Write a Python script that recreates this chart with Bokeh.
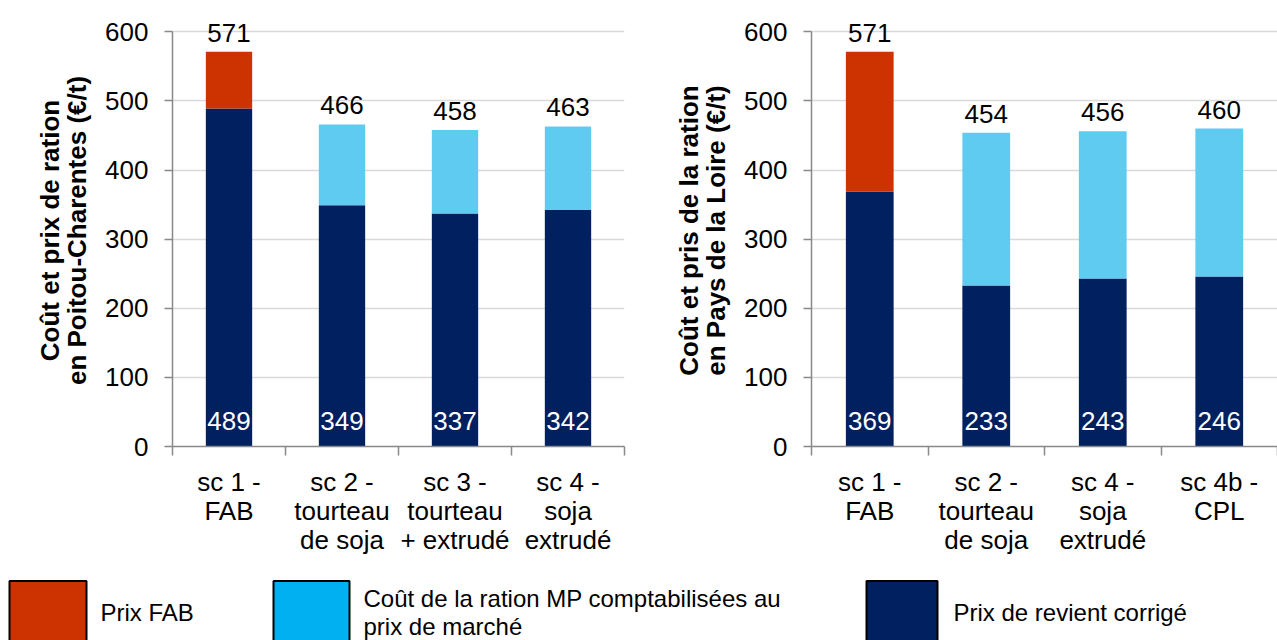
from bokeh.plotting import figure
from bokeh.models import ColumnDataSource, Range1d, FixedTicker
from bokeh.layouts import column, row
from bokeh.embed import file_html
from bokeh.resources import INLINE
from bokeh.core.properties import value

FONT = "Liberation Sans"

# ---------------- data ----------------
pc_categories = ["sc 1 -\nFAB", "sc 2 -\ntourteau\nde soja",
                 "sc 3 -\ntourteau\n+ extrudé", "sc 4 -\nsoja\nextrudé"]
pc_prix_revient = [489, 349, 337, 342]
pc_prix_fab = [571, None, None, None]
pc_cout_ration = [None, 466, 458, 463]
pc_total = [571, 466, 458, 463]
pc_ylabel = "Coût et prix de ration\nen Poitou-Charentes (€/t)"

pl_categories = ["sc 1 -\nFAB", "sc 2 -\ntourteau\nde soja",
                 "sc 4 -\nsoja\nextrudé", "sc 4b -\nCPL"]
pl_prix_revient = [369, 233, 243, 246]
pl_prix_fab = [571, None, None, None]
pl_cout_ration = [None, 454, 456, 460]
pl_total = [571, 454, 456, 460]
pl_ylabel = "Coût et pris de la ration\nen Pays de la Loire (€/t)"

y_ticks = [0, 100, 200, 300, 400, 500, 600]

series_names = ["Prix FAB",
                "Coût de la ration MP comptabilisées au\nprix de marché",
                "Prix de revient corrigé"]

# ---------------- styles ----------------
RED = "#CC3300"
LIGHT = "#5FCBF0"
LEGEND_LIGHT = "#00B0F0"
NAVY = "#002060"
AXIS = "#898989"
GRID = "#D9D9D9"
FS = "26px"


def nan(v):
    return float("nan") if v is None else v


def make_chart(categories, revient, fab, cout, total, ylabel,
               width, border_left, border_right):
    n = len(categories)
    xs = [i + 0.5 for i in range(n)]
    src = ColumnDataSource(dict(
        x=xs,
        revient=revient,
        fab=[nan(v) for v in fab],
        cout=[nan(v) for v in cout],
        total=total,
        total_label=[str(v) for v in total],
        revient_label=[str(v) for v in revient],
    ))
    p = figure(width=width, height=564,
               x_range=Range1d(0, n), y_range=Range1d(0, 625),
               output_backend="svg", toolbar_location=None,
               min_border_left=border_left, min_border_right=border_right,
               min_border_top=14, min_border_bottom=118)
    p.outline_line_color = None
    p.background_fill_color = "white"
    p.border_fill_color = "white"

    # grid
    p.xgrid.visible = False
    p.ygrid.ticker = FixedTicker(ticks=y_ticks)
    p.ygrid.grid_line_color = GRID
    p.ygrid.grid_line_width = 1.5

    # y axis
    ya = p.yaxis[0]
    ya.ticker = FixedTicker(ticks=y_ticks)
    ya.bounds = (0, 600)
    ya.axis_line_color = AXIS
    ya.axis_line_width = 1.5
    ya.major_tick_line_color = AXIS
    ya.major_tick_line_width = 1.5
    ya.major_tick_out = 8
    ya.major_tick_in = 0
    ya.minor_tick_line_color = None
    ya.major_label_text_font = FONT
    ya.major_label_text_font_size = FS
    ya.major_label_text_color = "black"
    ya.major_label_standoff = 16
    ya.axis_label = ylabel
    ya.axis_label_text_font = FONT
    ya.axis_label_text_font_size = "26px"
    ya.axis_label_text_font_style = "bold"
    ya.axis_label_text_color = "black"
    ya.axis_label_text_line_height = 0.9
    ya.axis_label_standoff = 10

    # x axis: labels at centres, ticks at boundaries
    xa = p.xaxis[0]
    xa.ticker = FixedTicker(ticks=xs, minor_ticks=list(range(n + 1)))
    xa.major_label_overrides = {x: c for x, c in zip(xs, categories)}
    xa.axis_line_color = AXIS
    xa.axis_line_width = 1.5
    xa.major_tick_line_color = None
    xa.major_tick_out = 0
    xa.major_tick_in = 0
    xa.minor_tick_line_color = AXIS
    xa.minor_tick_line_width = 1.5
    xa.minor_tick_out = 9
    xa.minor_tick_in = 0
    xa.major_label_text_font = FONT
    xa.major_label_text_font_size = FS
    xa.major_label_text_color = "black"
    xa.major_label_text_line_height = 0.97
    xa.major_label_standoff = 11

    bw = 0.41
    p.vbar(x="x", bottom=0, top="revient", width=bw, source=src,
           fill_color=NAVY, line_color=None)
    p.vbar(x="x", bottom="revient", top="fab", width=bw, source=src,
           fill_color=RED, line_color=None)
    p.vbar(x="x", bottom="revient", top="cout", width=bw, source=src,
           fill_color=LIGHT, line_color=None)

    p.text(x="x", y="total", text="total_label", source=src,
           text_align="center", text_baseline="alphabetic", y_offset=-19,
           text_font=value(FONT), text_font_size=FS, text_color="black")
    p.text(x="x", y=0, text="revient_label", source=src,
           text_align="center", text_baseline="alphabetic", y_offset=-26,
           text_font=value(FONT), text_font_size=FS, text_color="white")
    return p


p1 = make_chart(pc_categories, pc_prix_revient, pc_prix_fab, pc_cout_ration,
                pc_total, pc_ylabel, width=640, border_left=172, border_right=16)
p2 = make_chart(pl_categories, pl_prix_revient, pl_prix_fab, pl_cout_ration,
                pl_total, pl_ylabel, width=637, border_left=171, border_right=0)

# ---------------- legend ----------------
LEG_W, LEG_H = 1277, 76
legend_colors = [RED, LEGEND_LIGHT, NAVY]
legend_box_left = [9, 273, 866]
legend_box_width = [77, 76, 71]
legend_text_x = [100, 363, 953]

lg = figure(width=LEG_W, height=LEG_H,
            x_range=Range1d(0, LEG_W), y_range=Range1d(LEG_H, 0),
            output_backend="svg", toolbar_location=None,
            x_axis_location=None, y_axis_location=None,
            min_border=0, min_border_left=0, min_border_right=0,
            min_border_top=0, min_border_bottom=0)
lg.outline_line_color = None
lg.xgrid.visible = False
lg.ygrid.visible = False
leg_src = ColumnDataSource(dict(
    left=legend_box_left,
    right=[l + w for l, w in zip(legend_box_left, legend_box_width)],
    top=[16.5] * 3,
    bottom=[LEG_H + 5] * 3,
    color=legend_colors,
    tx=legend_text_x,
    ty=[48] * 3,
    label=series_names,
))
lg.quad(left="left", right="right", top="top", bottom="bottom",
        fill_color="color", line_color="black", line_width=2, source=leg_src)
lg.text(x="tx", y="ty", text="label", source=leg_src,
        text_align="left", text_baseline="middle",
        text_font=value(FONT), text_font_size="24px", text_color="black",
        text_line_height=1.05)

layout = column(row(p1, p2), lg)

with open("out.html", "w") as f:
    f.write(file_html(layout, INLINE))
